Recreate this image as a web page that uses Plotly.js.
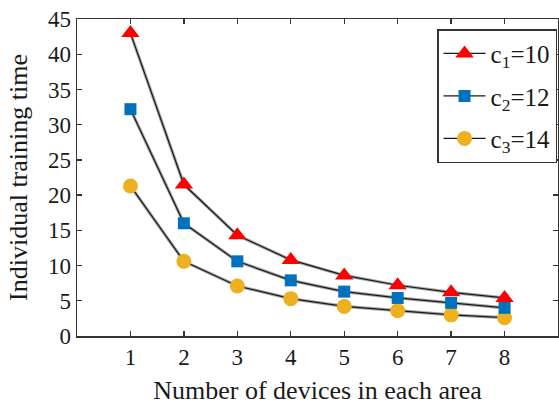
<!DOCTYPE html>
<html><head><meta charset="utf-8">
<script src="https://cdn.plot.ly/plotly-3.0.1.min.js"></script>
<style>html,body{margin:0;padding:0;background:#fff}#chart{width:559px;height:405px}</style>
</head><body><div id="chart"></div>
<script>
const devices = [1, 2, 3, 4, 5, 6, 7, 8];
const c1Times = [43.0, 21.5, 14.3, 10.8, 8.6, 7.2, 6.2, 5.4];
const c2Times = [32.2, 16.0, 10.6, 7.9, 6.3, 5.4, 4.7, 4.0];
const c3Times = [21.3, 10.6, 7.1, 5.3, 4.2, 3.6, 3.0, 2.6];
const seriesNames = ['c<sub>1</sub>=10', 'c<sub>2</sub>=12', 'c<sub>3</sub>=14'];
const xTickLabels = ['1','2','3','4','5','6','7','8'];
const yTickVals = [0,5,10,15,20,25,30,35,40,45];

const fontFam = 'Liberation Serif, Times New Roman, serif';
const seriesData = [c1Times, c2Times, c3Times];
const markers = [
  {symbol:'triangle-up', size:16, color:'#FF0000'},
  {symbol:'square', size:12, color:'#0072BD'},
  {symbol:'circle', size:15, color:'#EDB120'}
];
const traces = [];
seriesData.forEach(ys => traces.push({
  x: devices, y: ys, mode:'lines', showlegend:false, hoverinfo:'skip',
  line:{color:'#a8a8a8', width:3.2}
}));
[2,1,0].forEach(i => traces.push({
  x: devices, y: seriesData[i], mode:'lines+markers', name: seriesNames[i],
  legendrank: i+1, legendgroup: 'g'+i,
  line:{color:'#1a1a1a', width:1.2},
  marker:{symbol:markers[i].symbol, size:markers[i].size, color:markers[i].color, line:{width:0}}
}));

const axisCommon = {
  showline:true, linecolor:'#333', linewidth:1.5, mirror:'ticks',
  ticks:'inside', ticklen:5, tickwidth:1.3, tickcolor:'#333',
  showgrid:false, zeroline:false,
  tickfont:{family:fontFam, size:23, color:'#1a1a1a'}
};
const layout = {
  width:559, height:405,
  margin:{l:77, r:1, t:19, b:69},
  paper_bgcolor:'#fff', plot_bgcolor:'#fff',
  font:{family:fontFam, color:'#1a1a1a'},
  xaxis: Object.assign({}, axisCommon, {
    range:[0,9], tickvals:devices, ticktext:xTickLabels,
    title:{text:'Number of devices in each area', font:{family:fontFam, size:26, color:'#1a1a1a'}, standoff:12}
  }),
  yaxis: Object.assign({}, axisCommon, {
    range:[0,45], tickvals:yTickVals,
    title:{text:'Individual training time', font:{family:fontFam, size:26, color:'#1a1a1a'}, standoff:13}
  }),
  legend:{
    x:0.998, xanchor:'right', y:0.968, yanchor:'top',
    bgcolor:'#fff', bordercolor:'#333', borderwidth:1.5,
    font:{family:fontFam, size:25, color:'#1a1a1a'},
    itemwidth:42, tracegroupgap:7
  },
  showlegend:true
};
Plotly.newPlot('chart', traces, layout, {displayModeBar:false, staticPlot:true});
</script></body></html>
